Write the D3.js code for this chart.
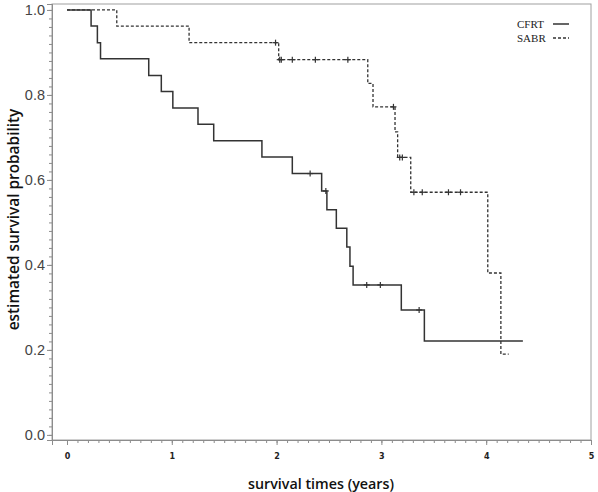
<!DOCTYPE html>
<html><head><meta charset="utf-8">
<script src="https://cdn.jsdelivr.net/npm/d3@7"></script>
<style>body{margin:0;background:#fff}</style>
</head><body>
<script>
// ---- data ----
const cfrtEventTimes = [0.23, 0.29, 0.32, 0.78, 0.90, 1.01, 1.25, 1.40, 1.86, 2.15, 2.43, 2.48, 2.57, 2.67, 2.70, 2.73, 3.19, 3.41];
const cfrtSurvival   = [0.962, 0.923, 0.885, 0.846, 0.808, 0.769, 0.731, 0.692, 0.654, 0.615, 0.574, 0.530, 0.486, 0.442, 0.397, 0.353, 0.294, 0.221];
const cfrtEnd = 4.35;
const cfrtCensored = [2.32, 2.47, 2.86, 2.99, 3.36];

const sabrEventTimes = [0.475, 1.165, 2.02, 2.87, 2.92, 3.13, 3.155, 3.28, 4.015, 4.14];
const sabrSurvival   = [0.962, 0.923, 0.883, 0.827, 0.772, 0.713, 0.653, 0.571, 0.381, 0.190];
const sabrEnd = 4.215;
const sabrCensored = [1.99, 2.03, 2.045, 2.15, 2.37, 2.68, 3.115, 3.175, 3.20, 3.31, 3.39, 3.64, 3.755];

const xTicks = [0, 1, 2, 3, 4, 5];
const yTicks = [0.0, 0.2, 0.4, 0.6, 0.8, 1.0];
const seriesNames = ["CFRT", "SABR"];

// ---- layout ----
const W = 598, H = 492;
const L = 52, R = 591, T = 4, B = 440;
const svg = d3.select("body").append("svg").attr("width", W).attr("height", H);

const x = d3.scaleLinear().domain([-0.143, 5]).range([L, R]);
const y = d3.scaleLinear().domain([-0.012, 1.014]).range([B, T]);

// frame
svg.append("rect").attr("x", L).attr("y", T).attr("width", R - L).attr("height", B - T)
  .attr("fill", "none").attr("stroke", "#a0a0a0").attr("stroke-width", 1);

// axes
const axisColor = "#8c8c8c";
const yAxisMinor = d3.axisLeft(y).tickValues(d3.range(0, 1.0001, 0.02)).tickSize(3).tickFormat("");
const gyMinor = svg.append("g").attr("transform", `translate(${L},0)`).call(yAxisMinor);
const yAxis = d3.axisLeft(y).tickValues(yTicks).tickSize(5).tickPadding(2).tickFormat(d3.format(".1f"));
const gy = svg.append("g").attr("transform", `translate(${L},0)`).call(yAxis);
[gy, gyMinor].forEach(g => { g.select(".domain").attr("stroke", axisColor); g.selectAll("line").attr("stroke", axisColor); });
gy.selectAll("text").attr("font-family", "Liberation Sans, Arial, sans-serif").attr("font-size", 14.5).attr("fill", "#444");

const xAxisMinor = d3.axisBottom(x).tickValues(d3.range(0, 5.0001, 0.1)).tickSize(3).tickFormat("");
const gxMinor = svg.append("g").attr("transform", `translate(0,${B})`).call(xAxisMinor);
const xAxis = d3.axisBottom(x).tickValues(xTicks).tickSize(5).tickPadding(8).tickFormat(d3.format("d"));
const gx = svg.append("g").attr("transform", `translate(0,${B})`).call(xAxis);
[gx, gxMinor].forEach(g => { g.select(".domain").attr("stroke", axisColor); g.selectAll("line").attr("stroke", axisColor); });
gx.selectAll("text").attr("font-family", "DejaVu Sans, sans-serif").attr("font-size", 8).attr("font-weight", "bold").attr("fill", "#222");

// titles
svg.append("text").attr("transform", `translate(19,219.5) rotate(-90)`)
  .attr("text-anchor", "middle").attr("font-family", "Open Sans, sans-serif").attr("font-weight", 600)
  .attr("font-size", 15.4).attr("fill", "#111").text("estimated survival probability");
svg.append("text").attr("x", 321).attr("y", 489)
  .attr("text-anchor", "middle").attr("font-family", "Open Sans, sans-serif").attr("font-weight", 600)
  .attr("font-size", 14.3).attr("fill", "#111").text("survival times (years)");

// KM step paths
function kmPoints(times, surv, end) {
  const pts = [[0, 1]];
  let s = 1;
  times.forEach((t, i) => { pts.push([t, s]); s = surv[i]; pts.push([t, s]); });
  pts.push([end, s]);
  return pts;
}
function survAt(times, surv, t) {
  let s = 1;
  times.forEach((tt, i) => { if (tt <= t) s = surv[i]; });
  return s;
}
const line = d3.line().x(d => x(d[0])).y(d => y(d[1]));

const cfrtPts = kmPoints(cfrtEventTimes, cfrtSurvival, cfrtEnd);
const sabrPts = kmPoints(sabrEventTimes, sabrSurvival, sabrEnd);

svg.append("path").attr("d", line(sabrPts)).attr("fill", "none").attr("stroke", "#333")
  .attr("stroke-width", 1.3).attr("stroke-dasharray", "3,2");
svg.append("path").attr("d", line(cfrtPts)).attr("fill", "none").attr("stroke", "#333")
  .attr("stroke-width", 1.5);

// censor marks
function censor(times, evTimes, surv, sz) {
  times.forEach(t => {
    const cx = x(t), cy = y(survAt(evTimes, surv, t));
    svg.append("line").attr("x1", cx).attr("x2", cx).attr("y1", cy - sz).attr("y2", cy + sz)
      .attr("stroke", "#333").attr("stroke-width", 1.2);
    svg.append("line").attr("x1", cx - sz).attr("x2", cx + sz).attr("y1", cy).attr("y2", cy)
      .attr("stroke", "#333").attr("stroke-width", 1.2);
  });
}
censor(cfrtCensored, cfrtEventTimes, cfrtSurvival, 3);
censor(sabrCensored, sabrEventTimes, sabrSurvival, 3);

// legend
const lg = svg.append("g");
seriesNames.forEach((n, i) => {
  const yy = 24 + i * 14;
  lg.append("text").attr("x", 517).attr("y", yy + 4).attr("font-family", "Liberation Serif, Times New Roman, serif")
    .attr("font-size", 11).attr("fill", "#222").text(n);
  lg.append("line").attr("x1", 553).attr("x2", 569).attr("y1", yy).attr("y2", yy)
    .attr("stroke", "#333").attr("stroke-width", i === 0 ? 1.5 : 1.3)
    .attr("stroke-dasharray", i === 0 ? null : "3,2");
});
</script>
</body></html>
